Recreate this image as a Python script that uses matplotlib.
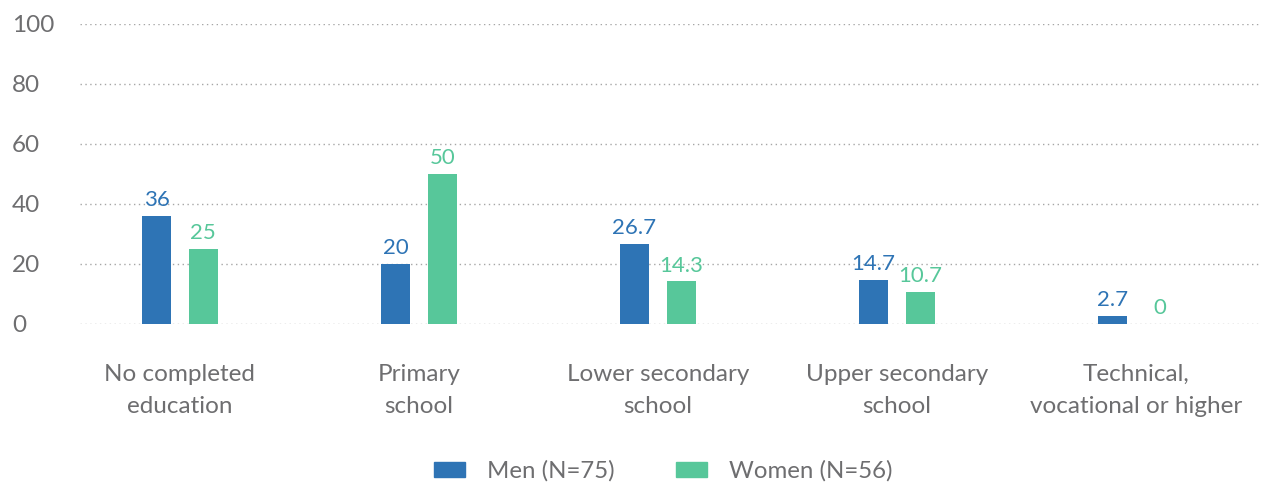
import matplotlib
matplotlib.use("Agg")
import matplotlib.pyplot as plt
import numpy as np
from matplotlib.patches import Patch

categories = ["No completed\neducation", "Primary\nschool", "Lower secondary\nschool",
              "Upper secondary\nschool", "Technical,\nvocational or higher"]
men = [36, 20, 26.7, 14.7, 2.7]
women = [25, 50, 14.3, 10.7, 0]
men_labels = ["36", "20", "26.7", "14.7", "2.7"]
women_labels = ["25", "50", "14.3", "10.7", "0"]
series_names = ["Men (N=75)", "Women (N=56)"]
yticks = [0, 20, 40, 60, 80, 100]

BLUE = "#2E74B5"
GREEN = "#57C79A"
GREY = "#6E6E70"

plt.rcParams['font.family'] = ['Lato', 'DejaVu Sans']

W, H = 1261, 484
fig = plt.figure(figsize=(W/100, H/100), dpi=100)
ax = fig.add_axes([80/W, (H-324)/H, (W-80)/W, 300/H])

x = np.arange(len(categories))
bw = 0.121
off = 0.098
ax.bar(x - off, men, bw, color=BLUE, zorder=3)
ax.bar(x + off, women, bw, color=GREEN, zorder=3)

for xi, v, s in zip(x - off, men, men_labels):
    ax.annotate(s, (xi, v), xytext=(0, 4), textcoords="offset points",
                ha="center", va="bottom", color=BLUE, fontsize=16)
for xi, v, s in zip(x + off, women, women_labels):
    ax.annotate(s, (xi, v), xytext=(0, 4), textcoords="offset points",
                ha="center", va="bottom", color=GREEN, fontsize=16)

ax.set_ylim(0, 100)
ax.set_xlim(-0.418, 4.523)
ax.set_yticks(yticks)
ax.set_yticklabels([str(t) for t in yticks])
for lbl in ax.get_yticklabels():
    lbl.set_horizontalalignment("left")
ax.tick_params(axis="y", length=0, pad=49, labelsize=17.5, labelcolor=GREY)
ax.set_xticks(x)
ax.set_xticklabels(categories, linespacing=1.68)
ax.tick_params(axis="x", length=0, pad=28.5, labelsize=17.5, labelcolor=GREY)

ax.grid(axis="y", color="#A6A6A6", linestyle=(0, (1, 2.5)), linewidth=1, zorder=0)
for sp in ax.spines.values():
    sp.set_visible(False)

handles = [Patch(color=BLUE), Patch(color=GREEN)]
fig.legend(handles, series_names, loc="center", bbox_to_anchor=(663/W, 13/H),
           ncol=2, frameon=False, fontsize=17.3, labelcolor=GREY,
           handlelength=1.29, handleheight=0.62, handletextpad=0.92, columnspacing=2.54,
           borderpad=0, borderaxespad=0)

fig.savefig("out.png", dpi=100)
